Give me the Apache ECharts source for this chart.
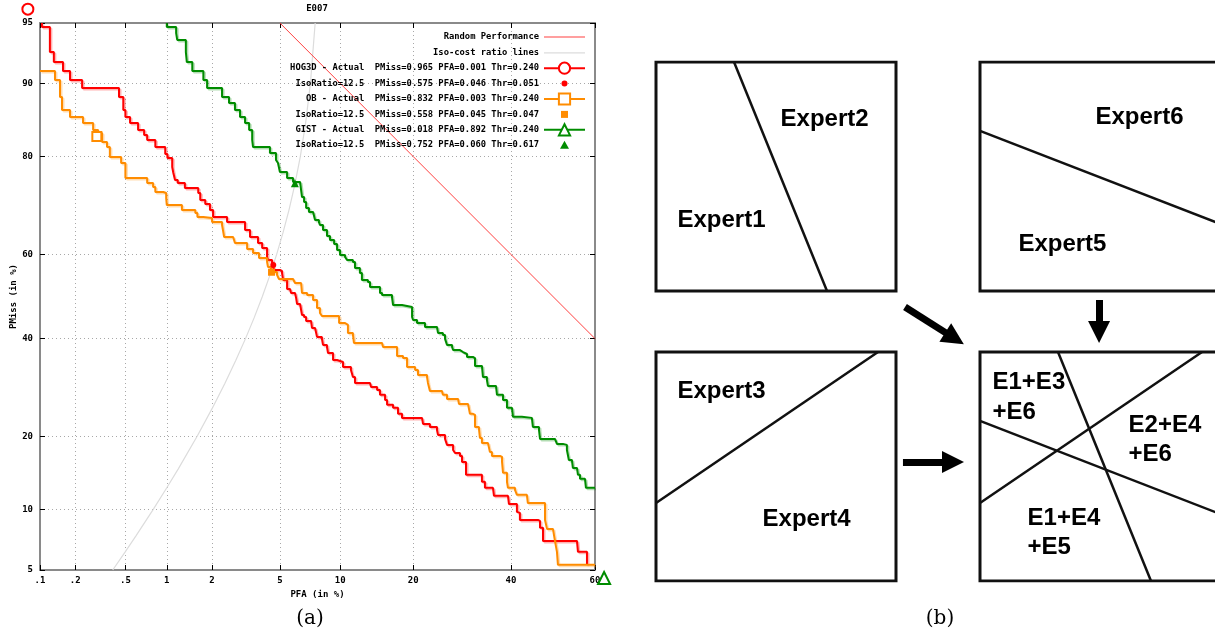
<!DOCTYPE html>
<html><head><meta charset="utf-8">
<script src="https://cdn.jsdelivr.net/npm/echarts@6/dist/echarts.min.js"></script>
<style>html,body{margin:0;padding:0;background:#fff}#c{width:1215px;height:637px}</style>
</head><body><div id="c"></div>
<script>
// ---------------- DET plot data (all values in %) ----------------
const pfaTicks = [0.1, 0.2, 0.5, 1, 2, 5, 10, 20, 40, 60];
const pfaTickLabels = ['.1', '.2', '.5', '1', '2', '5', '10', '20', '40', '60'];
const pmissTicks = [5, 10, 20, 40, 60, 80, 90, 95];
const pmissTickLabels = ['5', '10', '20', '40', '60', '80', '90', '95'];

const randomPFA = [5, 10, 20, 40, 60];
const randomPMiss = [95, 90, 80, 60, 40];

const isoPFA = [0.4, 0.5, 0.6, 0.8, 1, 1.2, 1.6, 2, 2.4, 2.8, 3.2, 3.6, 4, 4.4, 4.8, 5.2, 5.6, 6, 6.4, 6.8, 7.2, 7.6];
const isoPMiss = [5, 6.25, 7.5, 10, 12.5, 15, 20, 25, 30, 35, 40, 45, 50, 55, 60, 65, 70, 75, 80, 85, 90, 95];

const hogPFA = [0.104,0.104,0.122,0.132,0.158,0.181,0.228,0.447,0.482,0.500,0.542,0.622,0.689,0.725,0.83,0.975,1.01,1.09,1.11,1.14,1.19,1.33,1.63,1.68,1.81,1.94,2.03,2.48,3.18,3.40,3.78,3.99,4.25,4.30,4.53,4.64,5.00,5.13,5.20,5.46,5.46,5.66,5.73,6.01,6.09,6.16,6.38,6.53,6.69,6.85,7.25,7.33,7.59,7.76,8.20,8.30,8.67,8.77,9.26,9.26,9.67,10.30,11.18,11.41,11.65,13.52,13.66,14.47,14.87,15.59,15.88,16.77,17.53,18.16,21.51,21.69,22.93,24.24,24.43,25.78,26.17,27.37,27.77,28.77,29.19,30.02,30.02,33.00,33.44,34.10,35.89,36.12,39.32,39.55,41.41,41.41,41.88,42.11,46.41,46.89,47.61,47.61,55.75,55.99,58.12,58.12];
const hogPMiss = [95.0,94.74,92.92,92.07,91.24,90.35,89.50,88.49,86.90,85.98,85.16,84.16,83.42,82.67,81.56,80.42,79.75,78.20,77.12,75.83,75.26,74.30,73.31,71.90,71.08,69.85,68.36,67.28,65.54,63.98,62.63,61.49,59.40,58.71,58.00,56.36,56.12,55.64,53.96,53.72,51.80,51.56,50.84,50.60,49.64,48.20,47.73,45.58,45.10,44.15,43.92,42.50,42.03,40.40,39.93,38.54,38.07,36.70,36.25,35.12,34.68,33.59,32.93,31.43,30.16,30.16,29.33,28.71,27.71,26.70,25.73,25.15,24.02,23.27,23.09,22.18,21.64,21.10,20.26,19.58,18.61,17.80,17.34,16.89,15.99,15.85,14.18,14.18,13.25,12.49,12.37,11.53,11.41,10.60,10.60,9.76,9.66,8.95,8.86,8.21,7.85,7.08,7.08,6.23,6.16,5.33];

const obPFA = [0.100,0.135,0.149,0.155,0.181,0.232,0.280,0.307,0.330,0.361,0.380,0.464,0.500,0.725,0.80,0.83,0.945,0.99,1.00,1.27,1.56,1.61,1.76,2.00,2.31,2.34,2.38,2.70,2.77,3.27,3.54,3.83,4.25,4.30,4.47,4.82,4.94,5.87,6.01,6.46,6.53,6.93,7.42,7.76,8.02,8.20,9.67,9.88,10.52,10.84,11.41,11.53,15.16,15.30,17.38,17.38,18.32,18.97,20.31,20.81,22.40,22.57,22.93,25.19,25.37,26.17,28.38,28.56,30.44,30.85,31.50,31.93,32.79,33.00,33.44,34.76,35.20,35.66,37.49,37.95,38.18,39.09,39.32,40.95,41.41,43.76,43.99,47.61,48.09,48.57,50.00,50.48,50.96,51.20,60.0];
const obPMiss = [91.24,90.35,88.49,86.90,85.98,85.16,84.16,83.71,82.35,81.56,79.92,78.90,76.20,75.26,74.49,73.52,73.31,72.30,70.87,69.85,69.21,68.36,68.15,67.28,66.63,65.54,63.98,63.53,62.63,61.26,60.33,59.17,58.24,57.06,55.88,55.16,54.20,54.20,53.24,53.24,50.84,50.36,49.16,47.25,46.06,45.34,45.34,43.68,43.21,41.33,40.86,39.00,39.00,38.07,38.07,36.02,35.57,33.59,32.93,31.86,31.43,30.16,28.51,28.31,27.71,26.90,26.90,25.92,25.73,24.02,23.83,21.64,21.28,19.75,18.93,18.61,17.50,16.89,16.74,15.99,14.45,13.25,12.49,12.24,11.65,11.53,10.71,10.71,8.95,8.11,8.02,7.08,6.23,5.33,5.33];

const gistPFA = [1.00,1.00,1.16,1.18,1.35,1.37,1.49,1.76,1.86,2.31,2.55,2.77,2.97,3.18,3.36,3.50,3.54,4.41,4.76,4.88,5.00,5.46,5.87,6.38,6.53,6.69,6.85,7.08,7.42,7.59,7.93,8.02,8.30,8.67,8.96,9.37,9.67,9.98,10.52,10.74,11.41,11.65,12.24,12.49,13.25,13.52,14.47,14.87,15.16,16.61,16.77,18.16,19.80,19.80,19.97,20.64,22.04,22.04,24.24,24.43,25.37,25.78,26.17,27.17,27.37,28.77,29.40,30.23,31.50,31.93,33.44,33.66,34.54,34.76,36.57,36.80,38.18,38.18,39.09,40.25,40.48,42.58,44.95,45.19,46.65,46.89,50.48,50.96,52.39,53.35,53.82,54.54,54.78,55.75,55.99,56.47,57.65,57.88,60.0];
const gistPMiss = [95.0,94.74,94.34,93.86,92.92,92.07,91.24,90.35,89.50,88.49,87.77,86.90,85.98,85.16,84.16,82.67,81.56,80.59,79.42,78.90,77.30,76.20,75.45,75.26,72.50,71.49,70.26,69.42,69.21,67.72,67.28,66.63,65.54,64.20,63.31,62.40,61.03,59.87,59.40,58.71,58.24,56.83,55.64,53.96,53.48,52.28,52.28,50.84,50.36,49.88,47.96,47.49,47.25,45.10,44.39,43.68,43.68,42.73,42.50,41.33,40.86,39.93,38.54,38.07,37.37,36.92,36.47,35.80,35.57,33.81,33.59,31.43,30.78,29.54,29.33,27.71,27.31,26.70,25.15,24.95,23.46,23.27,23.09,21.64,21.10,19.58,19.41,18.77,18.61,17.80,16.28,15.99,15.13,14.99,14.18,13.64,13.50,12.49,12.49];

// actual operating points (HOG3D, OB, GIST) and iso-ratio points
const actualPFA = [0.078, 0.3, 62.1];
const actualPMiss = [95.8, 83.2, 4.52];
const isoPtPFA = [4.6, 4.5, 6.0];
const isoPtPMiss = [57.5, 55.8, 75.2];

const seriesNames = ['HOG3D - Actual  PMiss=0.965 PFA=0.001 Thr=0.240',
                     'OB - Actual  PMiss=0.832 PFA=0.003 Thr=0.240',
                     'GIST - Actual  PMiss=0.018 PFA=0.892 Thr=0.240'];
const isoNames = ['IsoRatio=12.5  PMiss=0.575 PFA=0.046 Thr=0.051',
                  'IsoRatio=12.5  PMiss=0.558 PFA=0.045 Thr=0.047',
                  'IsoRatio=12.5  PMiss=0.752 PFA=0.060 Thr=0.617'];

// ---------------- diagram (b) data, in panel units ----------------
const panelOrigins = [[0, 0], [1.35, 0], [0, 1.2664], [1.35, 1.2664]];
const splitE1E2 = [[0.325, 0], [0.7125, 1]];
const splitE5E6 = [[0, 0.301], [1, 0.707]];
const splitE3E4 = [[0, 0.659], [0.925, 0]];
const panelSplits = [[splitE1E2], [splitE5E6], [splitE3E4], [splitE1E2, splitE5E6, splitE3E4]];
const panelLabels = [
  [['Expert1', 0.0875, 0.69], ['Expert2', 0.517, 0.249]],
  [['Expert6', 0.479, 0.240], ['Expert5', 0.158, 0.795]],
  [['Expert3', 0.0875, 0.170], ['Expert4', 0.442, 0.729]],
  [['E1+E3', 0.05, 0.131], ['+E6', 0.05, 0.262], ['E2+E4', 0.617, 0.319], ['+E6', 0.617, 0.445], ['E1+E4', 0.196, 0.725], ['+E5', 0.196, 0.852]]
];
const arrows = [[[1.0375, 1.070], [1.244, 1.207]], [[1.846, 1.039], [1.846, 1.179]], [[1.029, 1.747], [1.2375, 1.747]]];

// ---------------- helpers ----------------
function probit(p) {
  const a=[-3.969683028665376e+01,2.209460984245205e+02,-2.759285104469687e+02,1.383577518672690e+02,-3.066479806614716e+01,2.506628277459239e+00];
  const b=[-5.447609879822406e+01,1.615858368580409e+02,-1.556989798598866e+02,6.680131188771972e+01,-1.328068155288572e+01];
  const c=[-7.784894002430293e-03,-3.223964580411365e-01,-2.400758277161838e+00,-2.549732539343734e+00,4.374664141464968e+00,2.938163982698783e+00];
  const d=[7.784695709041462e-03,3.224671290700398e-01,2.445134137142996e+00,3.754408661907416e+00];
  const pl = 0.02425, ph = 1 - pl; let q, r;
  if (p < pl) { q = Math.sqrt(-2*Math.log(p)); return (((((c[0]*q+c[1])*q+c[2])*q+c[3])*q+c[4])*q+c[5])/((((d[0]*q+d[1])*q+d[2])*q+d[3])*q+1); }
  if (p <= ph) { q = p - 0.5; r = q*q; return (((((a[0]*r+a[1])*r+a[2])*r+a[3])*r+a[4])*r+a[5])*q/(((((b[0]*r+b[1])*r+b[2])*r+b[3])*r+b[4])*r+1); }
  q = Math.sqrt(-2*Math.log(1-p)); return -(((((c[0]*q+c[1])*q+c[2])*q+c[3])*q+c[4])*q+c[5])/((((d[0]*q+d[1])*q+d[2])*q+d[3])*q+1);
}
const z = pct => probit(pct / 100);
const pairs = (xs, ys) => xs.map((x, i) => [z(x), z(ys[i])]);
const xTickVals = pfaTicks.map(z), yTickVals = pmissTicks.map(z);
const labelFor = (vals, labels) => v => { let best = 0; vals.forEach((t, i) => { if (Math.abs(t - v) < Math.abs(vals[best] - v)) best = i; }); return labels[best]; };

const mono = { fontFamily: 'DejaVu Sans Mono', fontSize: 9, fontWeight: 'bold', color: '#000' };
const frameLine = { show: true, onZero: false, lineStyle: { color: '#8a8a8a', width: 2 } };
const tick = vals => ({ show: true, inside: true, length: 5, customValues: vals, lineStyle: { color: '#000', width: 1 } });
const colors = ['#ff0000', '#ff8c00', '#008c00'];
const shadows = ['rgba(255,0,0,0.3)', 'rgba(255,140,0,0.3)', 'rgba(0,140,0,0.3)'];
const actualSymbols = ['emptyCircle', 'emptyRect', 'emptyTriangle'];
const actualSizes = [11, 9, 12];
const isoSymbols = ['circle', 'rect', 'triangle'];
const isoSizes = [6, 7, 8];
const curves = [[hogPFA, hogPMiss], [obPFA, obPMiss], [gistPFA, gistPMiss]];

const series = [
  { name: 'Random Performance', type: 'line', xAxisIndex: 0, yAxisIndex: 0, data: pairs(randomPFA, randomPMiss),
    symbol: 'none', lineStyle: { color: '#ff4040', width: 1 }, itemStyle: { color: '#ff4040' }, z: 2 },
  { name: 'Iso-cost ratio lines', type: 'line', xAxisIndex: 0, yAxisIndex: 0, data: pairs(isoPFA, isoPMiss),
    symbol: 'none', lineStyle: { color: '#dcdcdc', width: 1.2 }, itemStyle: { color: '#dcdcdc' }, z: 1 }
];
curves.forEach((cv, i) => {
  series.push({ name: seriesNames[i], type: 'line', step: 'end', xAxisIndex: 0, yAxisIndex: 0, data: pairs(cv[0], cv[1]),
    symbol: actualSymbols[i], showSymbol: false, z: 3 + i,
    lineStyle: { color: colors[i], width: 2, shadowColor: shadows[i], shadowBlur: 0, shadowOffsetX: 1.5, shadowOffsetY: 1.5 },
    itemStyle: { color: colors[i] } });
  series.push({ name: seriesNames[i], type: 'scatter', xAxisIndex: 0, yAxisIndex: 0, clip: false,
    data: [[z(actualPFA[i]), z(actualPMiss[i])]], symbol: actualSymbols[i], symbolSize: actualSizes[i],
    itemStyle: { color: colors[i], borderWidth: 1, opacity: 1 }, z: 8 });
  series.push({ name: isoNames[i], type: 'scatter', xAxisIndex: 0, yAxisIndex: 0,
    data: [[z(isoPtPFA[i]), z(isoPtPMiss[i])]], symbol: isoSymbols[i], symbolSize: isoSizes[i],
    itemStyle: { color: colors[i], opacity: 1 }, z: 9 });
});

// diagram
const toDiag = (o, p) => [o[0] + p[0], o[1] + p[1]];
const unitSquare = [[0, 0], [1, 0], [1, 1], [0, 1], [0, 0]];
series.push({ type: 'lines', coordinateSystem: 'cartesian2d', xAxisIndex: 2, yAxisIndex: 2, polyline: true, silent: true,
  lineStyle: { color: '#111', width: 3, opacity: 1, join: 'miter', cap: 'square' },
  data: panelOrigins.map(o => ({ coords: unitSquare.map(p => toDiag(o, p)) })) });
series.push({ type: 'lines', coordinateSystem: 'cartesian2d', xAxisIndex: 2, yAxisIndex: 2, silent: true,
  lineStyle: { color: '#111', width: 2.5, opacity: 1 },
  data: panelSplits.flatMap((sp, i) => sp.map(s => ({ coords: s.map(p => toDiag(panelOrigins[i], p)) }))) });
series.push({ type: 'lines', coordinateSystem: 'cartesian2d', xAxisIndex: 2, yAxisIndex: 2, silent: true,
  symbol: ['none', 'triangle'], symbolSize: 22,
  lineStyle: { color: '#000', width: 7, opacity: 1 },
  data: arrows.map(a => ({ coords: a })) });
series.push({ type: 'scatter', xAxisIndex: 2, yAxisIndex: 2, silent: true, symbolSize: 1,
  itemStyle: { color: 'rgba(0,0,0,0)', opacity: 1 },
  label: { show: true, position: 'right', distance: 0, formatter: '{b}', fontFamily: 'Liberation Sans', fontSize: 24, fontWeight: 'bold', color: '#000', opacity: 1 },
  data: panelLabels.flatMap((ls, i) => ls.map(l => ({ name: l[0], value: toDiag(panelOrigins[i], [l[1], l[2]]) }))) });

const lineIcon = 'path://M0,0M41,14M0,6.4H41V7.6H0Z';
const option = {
  animation: false,
  backgroundColor: '#fff',
  title: [
    { text: 'E007', left: 317, top: 4, padding: 0, textAlign: 'center', textStyle: mono },
    { text: '(a)', left: 310, top: 609, padding: 0, textAlign: 'center', textStyle: { fontFamily: 'DejaVu Serif', fontSize: 20, fontWeight: 'normal', color: '#000' } },
    { text: '(b)', left: 940, top: 609, padding: 0, textAlign: 'center', textStyle: { fontFamily: 'DejaVu Serif', fontSize: 20, fontWeight: 'normal', color: '#000' } }
  ],
  legend: {
    orient: 'vertical', right: 629, top: 30, padding: 0, itemGap: 1.8, itemWidth: 41, itemHeight: 14,
    align: 'right', selectedMode: false,
    textStyle: { fontFamily: 'DejaVu Sans Mono', fontSize: 8.8, fontWeight: 'bold', color: '#000' },
    data: [
      { name: 'Random Performance', icon: lineIcon, itemStyle: { borderWidth: 0 } },
      { name: 'Iso-cost ratio lines', icon: lineIcon, itemStyle: { borderWidth: 0 } },
      { name: seriesNames[0] },
      { name: isoNames[0], icon: 'path://M0,0M14,14M7,4A3,3,0,1,1,7,10A3,3,0,1,1,7,4Z' },
      { name: seriesNames[1] },
      { name: isoNames[1], icon: 'path://M0,0M14,14M3.5,3.5H10.5V10.5H3.5Z' },
      { name: seriesNames[2] },
      { name: isoNames[2], icon: 'path://M0,0M14,14M7,2.5L11.5,10.5H2.5Z' }
    ]
  },
  grid: [
    { left: 40, top: 23, width: 555, height: 547, outerBoundsMode: 'none' },
    { left: 656, top: 62, width: 564, height: 519, outerBoundsMode: 'none' }
  ],
  xAxis: [
    { gridIndex: 0, type: 'value', position: 'bottom', min: xTickVals[0], max: xTickVals[xTickVals.length - 1],
      axisLine: frameLine, axisTick: tick(xTickVals),
      axisLabel: Object.assign({ show: true, customValues: xTickVals, formatter: labelFor(xTickVals, pfaTickLabels), margin: 6 }, mono),
      splitLine: { show: true, lineStyle: { color: '#a8a8a8', width: 1, type: [1, 3] } },
      name: 'PFA (in %)', nameLocation: 'middle', nameGap: 18, nameTextStyle: mono },
    { gridIndex: 0, type: 'value', position: 'top', min: xTickVals[0], max: xTickVals[xTickVals.length - 1],
      axisLine: frameLine, axisTick: tick(xTickVals), axisLabel: { show: false }, splitLine: { show: false } },
    { gridIndex: 1, type: 'value', min: 0, max: 2.35, show: false }
  ],
  yAxis: [
    { gridIndex: 0, type: 'value', position: 'left', min: yTickVals[0], max: yTickVals[yTickVals.length - 1],
      axisLine: frameLine, axisTick: tick(yTickVals),
      axisLabel: Object.assign({ show: true, customValues: yTickVals, formatter: labelFor(yTickVals, pmissTickLabels), margin: 7 }, mono),
      splitLine: { show: true, lineStyle: { color: '#a8a8a8', width: 1, type: [1, 3] } },
      name: 'PMiss (in %)', nameLocation: 'middle', nameGap: 21, nameTextStyle: mono },
    { gridIndex: 0, type: 'value', position: 'right', min: yTickVals[0], max: yTickVals[yTickVals.length - 1],
      axisLine: frameLine, axisTick: tick(yTickVals), axisLabel: { show: false }, splitLine: { show: false } },
    { gridIndex: 1, type: 'value', min: 0, max: 2.2664, inverse: true, show: false }
  ],
  series: series
};
const chart = echarts.init(document.getElementById('c'), null, { renderer: 'canvas' });
chart.setOption(option);
</script>
</body></html>
